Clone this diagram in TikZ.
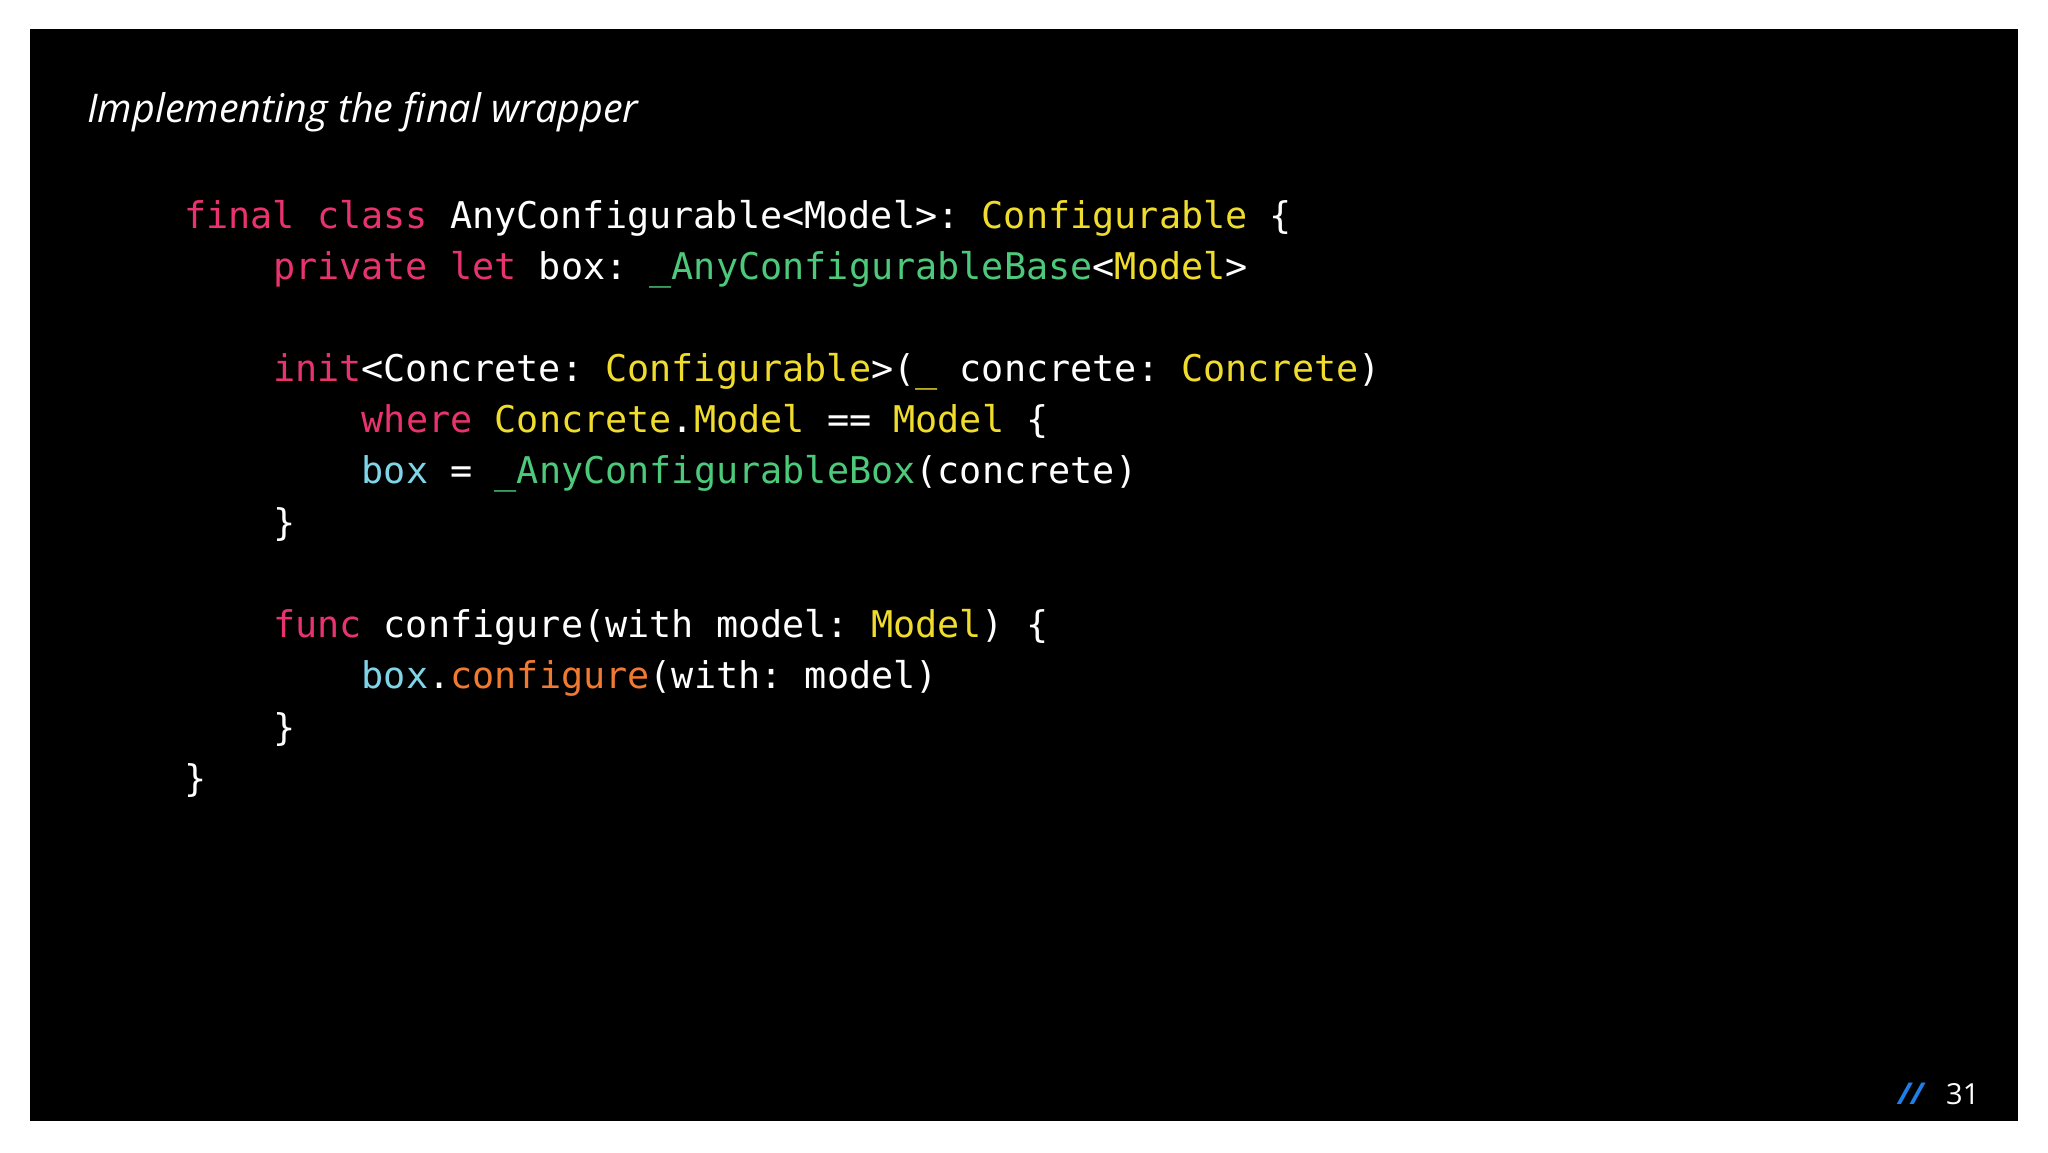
\documentclass[tikz,border=0pt]{standalone}
\usepackage{fontspec}
\setmainfont{Open Sans}
\newfontfamily\code{DejaVu Sans Mono}
\definecolor{kw}{HTML}{E8336E}
\definecolor{ty}{HTML}{F0DC2C}
\definecolor{gr}{HTML}{4CC97A}
\definecolor{cy}{HTML}{7FD4E8}
\definecolor{orn}{HTML}{F07A32}
\definecolor{pg}{HTML}{1E7FE8}
\newcommand{\K}[1]{\textcolor{kw}{#1}}
\newcommand{\T}[1]{\textcolor{ty}{#1}}
\newcommand{\G}[1]{\textcolor{gr}{#1}}
\newcommand{\C}[1]{\textcolor{cy}{#1}}
\newcommand{\Or}[1]{\textcolor{orn}{#1}}
\frenchspacing
\begin{document}
\begin{tikzpicture}[x=1pt,y=-1pt,
  cl/.style={anchor=base west,inner sep=0pt,text=white,font=\code\frenchspacing\fontsize{36.8}{40}\selectfont}]
\useasboundingbox (0,0) rectangle (2048,1152);
\fill[white] (0,0) rectangle (2048,1152);
\fill[black] (30,29) rectangle (2018,1121);
\node[anchor=base west,inner sep=0pt,text=white,font=\itshape\fontsize{39.5}{42}\selectfont] (title) at (87,122) {Implementing the final wrapper};
\def\cw{22.2}
\node[cl] (l1) at (184,228) {\K{final class} AnyConfigurable<Model>: \T{Configurable} \{};
\node[cl] (l2) at (184+4*\cw,279) {\K{private let} box: \G{\_AnyConfigurableBase}<\T{Model}>};
\node[cl] (l4) at (184+4*\cw,381) {\K{init}<Concrete: \T{Configurable}>(\T{\_} concrete: \T{Concrete})};
\node[cl] (l5) at (184+8*\cw,432) {\K{where} \T{Concrete}.\T{Model} == \T{Model} \{};
\node[cl] (l6) at (184+8*\cw,483) {\C{box} = \G{\_AnyConfigurableBox}(concrete)};
\node[cl] (l7) at (184+4*\cw,535) {\}};
\node[cl] (l9) at (184+4*\cw,637) {\K{func} configure(with model: \T{Model}) \{};
\node[cl] (l10) at (184+8*\cw,688) {\C{box}.\Or{configure}(with: model)};
\node[cl] (l11) at (184+4*\cw,740) {\}};
\node[cl] (l12) at (184,791) {\}};
\node[anchor=base west,inner sep=0pt,text=pg,font=\itshape\bfseries\fontsize{30}{32}\selectfont] (sl) at (1898,1104) {//};
\node[anchor=base west,inner sep=0pt,text=white,font=\fontsize{29}{32}\selectfont] (pn) at (1946,1104) {31};
\end{tikzpicture}
\end{document}
